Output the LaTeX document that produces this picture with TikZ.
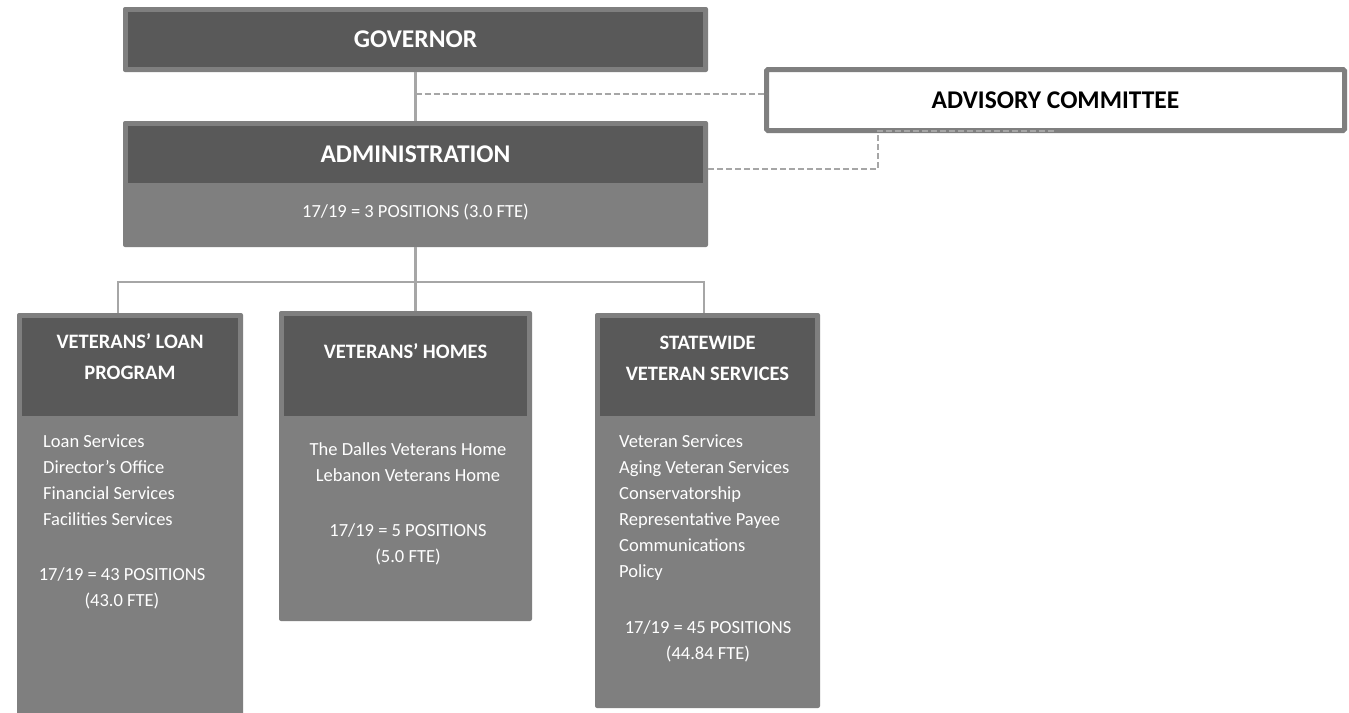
\documentclass[tikz,border=0pt]{standalone}
\usepackage{fontspec}
\setmainfont{Carlito}
\definecolor{shellgray}{HTML}{7F7F7F}
\definecolor{headgray}{HTML}{595959}
\definecolor{linkgray}{HTML}{A6A6A6}
\begin{document}
\begin{tikzpicture}[x=1pt,y=-1pt,
  shell/.style={fill=shellgray, rounded corners=2pt, inner sep=0pt},
  head/.style={fill=headgray, inner sep=0pt},
  bigtitle/.style={font=\fontsize{25.5}{30}\selectfont\bfseries},
  subtitle/.style={text=white, font=\fontsize{20.5}{31}\selectfont\bfseries, align=center, inner sep=0pt},
  body/.style={text=white, font=\fontsize{18.5}{26}\selectfont, inner sep=0pt},
  link/.style={draw=linkgray, line width=2.5pt},
  dlink/.style={draw=linkgray, line width=2pt, dash pattern=on 6pt off 3pt},
]
\useasboundingbox[fill=white] (0,0) rectangle (1349,712);

% --- top level ---
\node[shell, minimum width=585pt, minimum height=65pt] (gov) at (415.5,39.5) {};
\node[head, minimum width=575pt, minimum height=55pt, text=white, bigtitle] (govh) at (gov) {GOVERNOR};

\node[shell, minimum width=585pt, minimum height=126pt] (adm) at (415.5,184) {};
\node[head, minimum width=575pt, minimum height=57pt, text=white, bigtitle] (admh) at (415.5,154.5) {ADMINISTRATION};
\node[body, anchor=base] (admpos) at (415.5,217) {17/19 = 3 POSITIONS (3.0 FTE)};

\node[draw=shellgray, line width=5pt, fill=white, rounded corners=1.5pt, outer sep=0pt,
      minimum width=578pt, minimum height=61pt, text=black, bigtitle] (adv) at (1055.5,100) {ADVISORY COMMITTEE};

% --- divisions ---
\node[shell, minimum width=226pt, minimum height=427pt] (loan) at (130,526.5) {};
\node[head, minimum width=216pt, minimum height=98pt] (loanh) at (130,367) {};
\node[subtitle] (loant) at (130,356.5) {VETERANS’ LOAN\\PROGRAM};

\node[shell, minimum width=253pt, minimum height=310pt] (homes) at (405.5,466) {};
\node[head, minimum width=243pt, minimum height=100pt] (homesh) at (405.5,366) {};
\node[subtitle] (homest) at (405.5,351) {VETERANS’ HOMES};

\node[shell, minimum width=225pt, minimum height=395pt] (state) at (707.5,510.5) {};
\node[head, minimum width=215pt, minimum height=98pt] (stateh) at (707.5,367) {};
\node[subtitle] (statet) at (707.5,358) {STATEWIDE\\VETERAN SERVICES};

% --- division contents ---
\foreach \t [count=\i] in {Loan Services, Director’s Office, Financial Services, Facilities Services}
  \node[body, anchor=base west] (loan-\i) at (43,{447+26*(\i-1)}) {\t};
\node[body, anchor=base] (loanpos) at (122,580) {17/19 = 43 POSITIONS};
\node[body, anchor=base] (loanfte) at (122,606) {(43.0 FTE)};

\node[body, anchor=base] (homes-1) at (408,455) {The Dalles Veterans Home};
\node[body, anchor=base] (homes-2) at (408,481) {Lebanon Veterans Home};
\node[body, anchor=base] (homespos) at (408,536) {17/19 = 5 POSITIONS};
\node[body, anchor=base] (homesfte) at (408,562) {(5.0 FTE)};

\foreach \t [count=\i] in {Veteran Services, Aging Veteran Services, Conservatorship, Representative Payee, Communications, Policy}
  \node[body, anchor=base west] (state-\i) at (619,{447+26*(\i-1)}) {\t};
\node[body, anchor=base] (statepos) at (708,633) {17/19 = 45 POSITIONS};
\node[body, anchor=base] (statefte) at (708,659) {(44.84 FTE)};

% --- reporting lines ---
\coordinate (tap) at (415.5,94);
\coordinate (elb) at (878,169);
\coordinate (b1) at (118,282);
\coordinate (b2) at (415.5,282);
\coordinate (b3) at (704,282);

\draw[link] (gov.south) -- (adm.north);
\draw[link] (adm.south) -- (b2);
\draw[link] (b1 |- loan.north) -- (b1) -- (b3) -- (b3 |- state.north);
\draw[link] (b2) -- (b2 |- homes.north);

% --- advisory lines ---
\draw[dlink] (tap) -- (tap -| adv.west);
\draw[dlink] (adm.east |- elb) -- (elb) -- (elb |- adv.south) -- (adv.south);
\end{tikzpicture}
\end{document}
